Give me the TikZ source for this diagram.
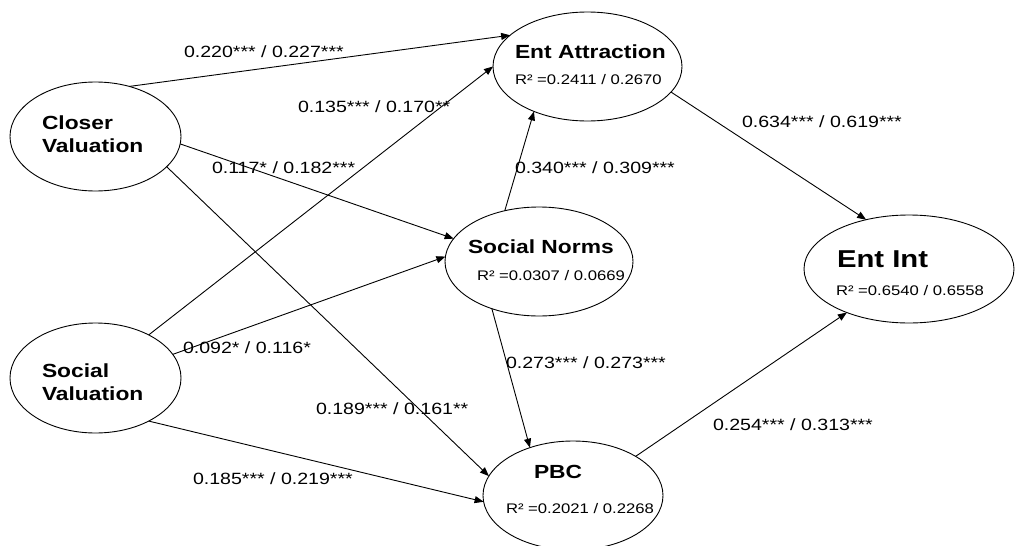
\documentclass[tikz,border=0pt]{standalone}
\usepackage{fontspec}
\setmainfont{Liberation Sans}[FakeStretch=1.2]
\usetikzlibrary{shapes.geometric, arrows.meta, positioning}

\begin{document}
\begin{tikzpicture}[
      x=1pt, y=-1pt,
      every node/.style={inner sep=0pt, outer sep=0pt},
      construct/.style={ellipse, draw, line width=0.9pt},
      title/.style={font=\bfseries\fontsize{19}{23}\selectfont, align=left, anchor=west},
      rsq/.style={font=\fontsize{13.9}{16}\selectfont, anchor=west},
      coef/.style={font=\fontsize{16.3}{19}\selectfont, anchor=west},
      arrow/.style={-{Triangle[length=9pt, width=7pt]}, line width=0.9pt}
    ]
    \useasboundingbox (0,0) rectangle (1015,546);

    % Constructs
    \node[construct, minimum width=171pt, minimum height=109pt] (closer) at (95.5,136.5) {};
    \node[construct, minimum width=171pt, minimum height=110pt] (social) at (95.5,378) {};
    \node[construct, minimum width=189pt, minimum height=109pt] (attr) at (587.5,66.5) {};
    \node[construct, minimum width=188pt, minimum height=109pt] (norms) at (539,261.5) {};
    \node[construct, minimum width=210pt, minimum height=108pt] (int) at (909,269) {};
    \node[construct, minimum width=180pt, minimum height=109pt] (pbc) at (573,495.5) {};

    % Texts inside
    \node[title] (closer-txt) at (42,134) {Closer\\Valuation};
    \node[title] (social-txt) at (42,382) {Social\\Valuation};
    \node[title] (attr-txt) at (515,52) {Ent Attraction};
    \node[rsq] (attr-r2) at (515,80) {R² =0.2411 / 0.2670};
    \node[title] (norms-txt) at (468,247) {Social Norms};
    \node[rsq] (norms-r2) at (477,276) {R² =0.0307 / 0.0669};
    \node[title, font=\bfseries\fontsize{24.4}{28}\selectfont] (int-txt) at (837,259) {Ent Int};
    \node[rsq] (int-r2) at (836,291) {R² =0.6540 / 0.6558};
    \node[title] (pbc-txt) at (534,472) {PBC};
    \node[rsq] (pbc-r2) at (506,509) {R² =0.2021 / 0.2268};

    % Arrows
    \draw[arrow] (closer.56) -- (attr.158);
    \draw[arrow] (closer.-5) -- (norms.165);
    \draw[arrow] (closer.-23) -- (pbc.167);
    \draw[arrow] (social.39) -- (attr.180);
    \draw[arrow] (social.17) -- (norms.177);
    \draw[arrow] (social.-39) -- (pbc.-176);
    \draw[arrow] (norms.124) -- (attr.-140);
    \draw[arrow] (norms.-135) -- (pbc.132);
    \draw[arrow] (attr.-17) -- (int.131);
    \draw[arrow] (pbc.32) -- (int.-145);

    % Path coefficients
    \node[coef] (c-closer-attr) at (184,52) {0.220*** / 0.227***};
    \node[coef] (c-social-attr) at (298,107) {0.135*** / 0.170**};
    \node[coef] (c-closer-norms) at (212,168) {0.117* / 0.182***};
    \node[coef] (c-norms-attr) at (515,168) {0.340*** / 0.309***};
    \node[coef] (c-attr-int) at (742,122) {0.634*** / 0.619***};
    \node[coef] (c-social-norms) at (183,348) {0.092* / 0.116*};
    \node[coef] (c-norms-pbc) at (506,363) {0.273*** / 0.273***};
    \node[coef] (c-closer-pbc) at (316,409) {0.189*** / 0.161**};
    \node[coef] (c-pbc-int) at (713,425) {0.254*** / 0.313***};
    \node[coef] (c-social-pbc) at (193,479) {0.185*** / 0.219***};

\end{tikzpicture}
\end{document}
